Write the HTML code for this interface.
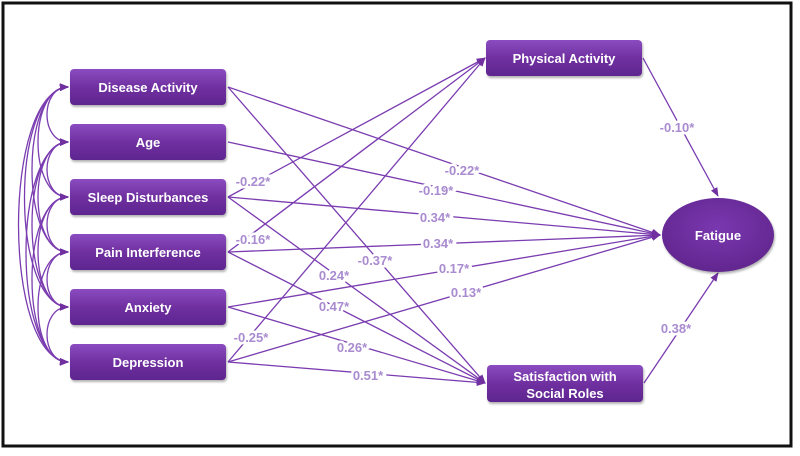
<!DOCTYPE html>
<html><head><style>
body{margin:0;background:#fff;}
svg{display:block;}
.b{font-family:"Liberation Sans",sans-serif;font-weight:bold;font-size:13px;fill:#fff;text-anchor:middle;}
.l{font-family:"Liberation Sans",sans-serif;font-weight:bold;font-size:13px;fill:#a98bcf;text-anchor:middle;stroke:#fff;stroke-width:5px;paint-order:stroke;}
</style></head><body>
<svg width="800" height="456" viewBox="0 0 800 456">
<defs>
<linearGradient id="g" x1="0" y1="0" x2="0" y2="1"><stop offset="0" stop-color="#8a4cc0"/><stop offset="0.5" stop-color="#7030a0"/><stop offset="1" stop-color="#5e2590"/></linearGradient>
<radialGradient id="rg" cx="0.5" cy="0.4" r="0.6"><stop offset="0" stop-color="#7a38b0"/><stop offset="1" stop-color="#62268f"/></radialGradient>
<marker id="a" viewBox="0 0 10 10" refX="9" refY="5" markerWidth="7" markerHeight="7" orient="auto-start-reverse"><path d="M0,1 L10,5 L0,9 z" fill="#7030a0"/></marker>
</defs>
<rect x="3" y="3" width="788" height="443" fill="#fff" stroke="#111" stroke-width="3"/>
<g stroke="#7a3cb0" stroke-width="1.3" fill="none">
<!-- correlations -->
<path d="M68,87 C40,87 40,142 68,142" marker-start="url(#a)" marker-end="url(#a)"/>
<path d="M68,87 C28,87 28,197 68,197" marker-start="url(#a)" marker-end="url(#a)"/>
<path d="M68,87 C20,87 20,252 68,252" marker-start="url(#a)" marker-end="url(#a)"/>
<path d="M68,87 C10,90 10,305 68,307" marker-start="url(#a)" marker-end="url(#a)"/>
<path d="M68,87 C2,92 2,358 68,362" marker-start="url(#a)" marker-end="url(#a)"/>
<path d="M68,142 C40,142 40,197 68,197" marker-start="url(#a)" marker-end="url(#a)"/>
<path d="M68,142 C28,142 28,252 68,252" marker-start="url(#a)" marker-end="url(#a)"/>
<path d="M68,142 C20,142 20,307 68,307" marker-start="url(#a)" marker-end="url(#a)"/>
<path d="M68,142 C12,145 12,360 68,362" marker-start="url(#a)" marker-end="url(#a)"/>
<path d="M68,197 C40,197 40,252 68,252" marker-start="url(#a)" marker-end="url(#a)"/>
<path d="M68,197 C28,197 28,307 68,307" marker-start="url(#a)" marker-end="url(#a)"/>
<path d="M68,197 C20,197 20,362 68,362" marker-start="url(#a)" marker-end="url(#a)"/>
<path d="M68,252 C40,252 40,307 68,307" marker-start="url(#a)" marker-end="url(#a)"/>
<path d="M68,252 C28,252 28,362 68,362" marker-start="url(#a)" marker-end="url(#a)"/>
<path d="M68,307 C40,307 40,362 68,362" marker-start="url(#a)" marker-end="url(#a)"/>
<!-- to fatigue -->
<line x1="228" y1="87" x2="660" y2="235" marker-end="url(#a)"/>
<line x1="228" y1="142" x2="660" y2="235" marker-end="url(#a)"/>
<line x1="228" y1="197" x2="660" y2="235" marker-end="url(#a)"/>
<line x1="228" y1="252" x2="660" y2="235" marker-end="url(#a)"/>
<line x1="228" y1="307" x2="660" y2="235" marker-end="url(#a)"/>
<line x1="228" y1="362" x2="660" y2="235" marker-end="url(#a)"/>
<!-- to physical activity -->
<line x1="228" y1="197" x2="485" y2="58" marker-end="url(#a)"/>
<line x1="228" y1="252" x2="485" y2="58" marker-end="url(#a)"/>
<line x1="228" y1="362" x2="485" y2="58" marker-end="url(#a)"/>
<!-- to satisfaction -->
<line x1="228" y1="87" x2="485" y2="383" marker-end="url(#a)"/>
<line x1="228" y1="197" x2="485" y2="383" marker-end="url(#a)"/>
<line x1="228" y1="252" x2="485" y2="383" marker-end="url(#a)"/>
<line x1="228" y1="307" x2="485" y2="383" marker-end="url(#a)"/>
<line x1="228" y1="362" x2="485" y2="383" marker-end="url(#a)"/>
<!-- mediators to fatigue -->
<line x1="643" y1="58" x2="718" y2="196" marker-end="url(#a)"/>
<line x1="644" y1="383" x2="718" y2="273" marker-end="url(#a)"/>
</g>
<g fill="url(#g)" style="filter:drop-shadow(1px 2px 1px rgba(0,0,0,0.3))">
<rect x="70" y="69" width="156" height="36" rx="4"/>
<rect x="70" y="124" width="156" height="36" rx="4"/>
<rect x="70" y="179" width="156" height="36" rx="4"/>
<rect x="70" y="234" width="156" height="36" rx="4"/>
<rect x="70" y="289" width="156" height="36" rx="4"/>
<rect x="70" y="344" width="156" height="36" rx="4"/>
<rect x="486" y="40" width="156" height="36" rx="4"/>
<rect x="487" y="365" width="156" height="37" rx="4"/>
<ellipse cx="718" cy="235" rx="56" ry="37" fill="url(#rg)"/>
</g>
<g class="b">
<text x="148" y="92">Disease Activity</text>
<text x="148" y="147">Age</text>
<text x="148" y="202">Sleep Disturbances</text>
<text x="148" y="257">Pain Interference</text>
<text x="148" y="312">Anxiety</text>
<text x="148" y="367">Depression</text>
<text x="564" y="63">Physical Activity</text>
<text x="565" y="381">Satisfaction with</text>
<text x="565" y="398">Social Roles</text>
<text x="718" y="240">Fatigue</text>
</g>
<g class="l">
<text x="462" y="175">-0.22*</text>
<text x="436" y="195">-0.19*</text>
<text x="435" y="222">0.34*</text>
<text x="438" y="248">0.34*</text>
<text x="454" y="273">0.17*</text>
<text x="466" y="297">0.13*</text>
<text x="253" y="186">-0.22*</text>
<text x="253" y="244">-0.16*</text>
<text x="251" y="342">-0.25*</text>
<text x="375" y="265">-0.37*</text>
<text x="334" y="280">0.24*</text>
<text x="334" y="311">0.47*</text>
<text x="352" y="352">0.26*</text>
<text x="368" y="380">0.51*</text>
<text x="677" y="132">-0.10*</text>
<text x="676" y="333">0.38*</text>
</g>
</svg>
</body></html>
